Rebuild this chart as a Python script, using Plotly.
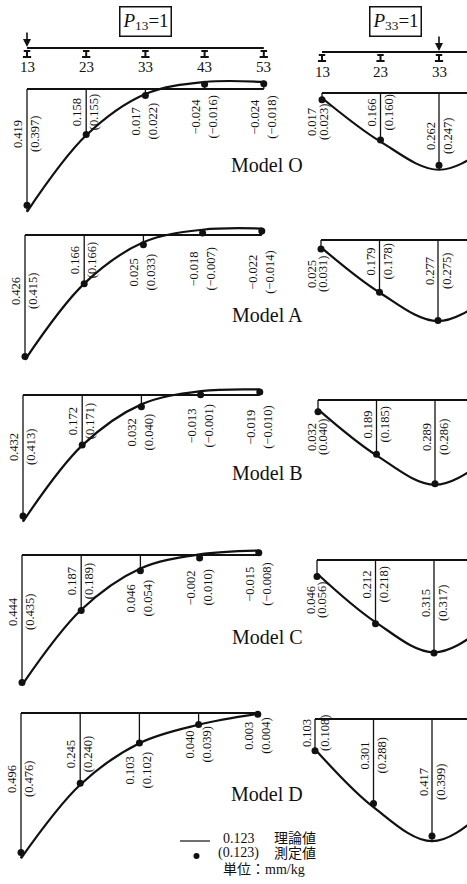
import plotly.graph_objects as go

W, H = 467, 884

# ---------------- data ----------------
STATIONS = [13, 23, 33, 43, 53]
STATION_LABELS = ["13", "23", "33", "43", "53"]
MODELS = ["O", "A", "B", "C", "D"]

# Load P13 = 1 : deflection (mm/kg) at stations 13..53
p13_theory_O = [0.419, 0.158, 0.017, -0.024, -0.024]
p13_measured_O = [0.397, 0.155, 0.022, -0.016, -0.018]
p13_theory_A = [0.426, 0.166, 0.025, -0.018, -0.022]
p13_measured_A = [0.415, 0.166, 0.033, -0.007, -0.014]
p13_theory_B = [0.432, 0.172, 0.032, -0.013, -0.019]
p13_measured_B = [0.413, 0.171, 0.040, -0.001, -0.010]
p13_theory_C = [0.444, 0.187, 0.046, -0.002, -0.015]
p13_measured_C = [0.435, 0.189, 0.054, 0.010, -0.008]
p13_theory_D = [0.496, 0.245, 0.103, 0.040, 0.003]
p13_measured_D = [0.476, 0.240, 0.102, 0.039, 0.004]

# Load P33 = 1 : deflection (mm/kg) at stations 13, 23, 33 (visible part)
P33_STATIONS = [13, 23, 33]
p33_theory_O = [0.017, 0.166, 0.262]
p33_measured_O = [0.023, 0.160, 0.247]
p33_theory_A = [0.025, 0.179, 0.277]
p33_measured_A = [0.031, 0.178, 0.275]
p33_theory_B = [0.032, 0.189, 0.289]
p33_measured_B = [0.040, 0.185, 0.286]
p33_theory_C = [0.046, 0.212, 0.315]
p33_measured_C = [0.056, 0.218, 0.317]
p33_theory_D = [0.103, 0.301, 0.417]
p33_measured_D = [0.108, 0.288, 0.399]
# stations 43, 53 lie beyond the cropped edge (estimated, symmetric span)
P33_HIDDEN_STATIONS = [43, 53]
p33_hidden_O = [0.166, 0.017]
p33_hidden_A = [0.179, 0.025]
p33_hidden_B = [0.189, 0.032]
p33_hidden_C = [0.212, 0.046]
p33_hidden_D = [0.301, 0.103]

P13_THEORY = [p13_theory_O, p13_theory_A, p13_theory_B, p13_theory_C, p13_theory_D]
P13_MEAS = [p13_measured_O, p13_measured_A, p13_measured_B, p13_measured_C, p13_measured_D]
P33_THEORY = [p33_theory_O, p33_theory_A, p33_theory_B, p33_theory_C, p33_theory_D]
P33_MEAS = [p33_measured_O, p33_measured_A, p33_measured_B, p33_measured_C, p33_measured_D]
P33_HIDDEN = [p33_hidden_O, p33_hidden_A, p33_hidden_B, p33_hidden_C, p33_hidden_D]

# ---------------- layout geometry (pixels) ----------------
SCALE = 293.0                      # px per mm/kg
LEFT_BASE_Y = [89, 235, 395, 555, 713]
RIGHT_BASE_Y = [93, 240, 400, 560, 719]
LEFT_X13 = [27, 25, 23, 22, 21]
RIGHT_X13 = [322, 321, 318, 317, 315]
LEFT_STEP = 59.2                   # px between stations
RIGHT_STEP = 58.5
LEFT_DOM = (0, 292)
RIGHT_DOM = (298, 467)
MODEL_LABEL_Y = [165, 315, 473, 637, 794]

LEFT_LABEL_DY = [
    [45, 23, 32, 28, 28],
    [56, 25, 37, 34, 37],
    [52, 26, 37, 31, 32],
    [57, 26, 43, 33, 29],
    [66, 41, 57, 32, 23],
]
RIGHT_LABEL_DY = [
    [29, 20, 43],
    [34, 22, 31],
    [37, 25, 37],
    [40, 25, 43],
    [14, 37, 63],
]
RIGHT13_THEORY_DX = [-10, -9, -6, -6, -8]
RIGHT13_MEAS_DX = [2, 2, 5, 5, 10]

SERIF = "Liberation Serif, Times New Roman, serif"
CJK = "Liberation Serif, Noto Sans CJK JP, serif"
INK = "#111111"

fig = go.Figure()
layout = dict(width=W, height=H, margin=dict(l=0, r=0, t=0, b=0),
              paper_bgcolor="white", plot_bgcolor="rgba(0,0,0,0)",
              showlegend=False, annotations=[], shapes=[])
ann = layout["annotations"]
axis_count = [0]


def new_axes(x13, step, xdom, ytop, ybot, yr_top, yr_bot):
    axis_count[0] += 1
    k = axis_count[0]
    sfx = "" if k == 1 else str(k)
    u = step / 10.0
    xr = [13 - (x13 - xdom[0]) / u, 13 + (xdom[1] - x13) / u]
    layout["xaxis" + sfx] = dict(domain=[xdom[0] / W, xdom[1] / W], range=xr,
                                 visible=False, fixedrange=True,
                                 anchor="y" + sfx)
    layout["yaxis" + sfx] = dict(domain=[1 - ybot / H, 1 - ytop / H],
                                 range=[yr_bot, yr_top], visible=False,
                                 fixedrange=True, anchor="x" + sfx)
    return "x" + sfx, "y" + sfx


def fmt(v):
    s = f"{abs(v):.3f}"
    return ("\u2212" + s) if v < 0 else s


def value_label(xr, yr, s, text, dy, dx):
    ann.append(dict(x=s, y=0, xref=xr, yref=yr, text=text, showarrow=False,
                    textangle=-90, xshift=dx, yshift=-dy,
                    xanchor="center", yanchor="middle",
                    font=dict(family=SERIF, size=12.5, color=INK)))


def deflection_panel(x13, step, xdom, base_y, st_th, th, st_me, me,
                     curve_st, curve_v, base_end, dys, dxs_th, dxs_me):
    top, bot = base_y - 28, base_y + 160
    xr, yr = new_axes(x13, step, xdom, top, bot,
                      (top - base_y) / SCALE, (bot - base_y) / SCALE)
    # baseline
    fig.add_trace(go.Scatter(x=[13, base_end], y=[0, 0], xaxis=xr, yaxis=yr,
                             mode="lines", line=dict(color=INK, width=2.2),
                             hoverinfo="skip"))
    # vertical ordinates
    vx, vy = [], []
    for s, v in zip(st_th, th):
        vx += [s, s, None]
        vy += [0, v, None]
    fig.add_trace(go.Scatter(x=vx, y=vy, xaxis=xr, yaxis=yr, mode="lines",
                             line=dict(color=INK, width=1.3), hoverinfo="skip"))
    # theoretical influence line
    fig.add_trace(go.Scatter(x=curve_st, y=curve_v, xaxis=xr, yaxis=yr,
                             mode="lines",
                             line=dict(color=INK, width=2.2, shape="spline",
                                       smoothing=1.0),
                             hoverinfo="skip"))
    # measured values
    fig.add_trace(go.Scatter(x=st_me, y=me, xaxis=xr, yaxis=yr, mode="markers",
                             marker=dict(color=INK, size=7), hoverinfo="skip"))
    for i, s in enumerate(st_th):
        value_label(xr, yr, s, fmt(th[i]), dys[i], dxs_th[i])
        value_label(xr, yr, s, "(" + fmt(me[i]) + ")", dys[i], dxs_me[i])


for r, m in enumerate(MODELS):
    # left column: P13 = 1
    deflection_panel(LEFT_X13[r], LEFT_STEP, LEFT_DOM, LEFT_BASE_Y[r],
                     STATIONS, P13_THEORY[r], STATIONS, P13_MEAS[r],
                     STATIONS, P13_THEORY[r], 53, LEFT_LABEL_DY[r],
                     [-9] * 5, [8] * 5)
    # right column: P33 = 1
    deflection_panel(RIGHT_X13[r], RIGHT_STEP, RIGHT_DOM, RIGHT_BASE_Y[r],
                     P33_STATIONS, P33_THEORY[r], P33_STATIONS, P33_MEAS[r],
                     P33_STATIONS + P33_HIDDEN_STATIONS,
                     P33_THEORY[r] + P33_HIDDEN[r], 53, RIGHT_LABEL_DY[r],
                     [RIGHT13_THEORY_DX[r], -9, -8],
                     [RIGHT13_MEAS_DX[r], 8, 9])
    ann.append(dict(x=267 / W, y=1 - MODEL_LABEL_Y[r] / H, xref="paper",
                    yref="paper", text="Model " + m, showarrow=False,
                    xanchor="center", yanchor="middle",
                    font=dict(family=SERIF, size=20, color=INK)))


# ---------------- beam sketches ----------------
def beam(x13, step, xdom, beam_y, stations, labels, load_station, label_y, end):
    xr, yr = new_axes(x13, step, xdom, 25, 84, 25, 84)
    fig.add_trace(go.Scatter(x=[13, end], y=[beam_y, beam_y], xaxis=xr,
                             yaxis=yr, mode="lines",
                             line=dict(color=INK, width=2), hoverinfo="skip"))
    sx, sy = [], []
    for s in stations:
        sx += [s - 0.55, s + 0.55, None, s, s, None, s - 0.7, s + 0.7, None]
        sy += [beam_y + 3, beam_y + 3, None, beam_y + 3, beam_y + 9, None,
               beam_y + 9, beam_y + 9, None]
    fig.add_trace(go.Scatter(x=sx, y=sy, xaxis=xr, yaxis=yr, mode="lines",
                             line=dict(color=INK, width=2), hoverinfo="skip"))
    for s, t in zip(stations, labels):
        ann.append(dict(x=s, y=label_y, xref=xr, yref=yr, text=t,
                        showarrow=False, xanchor="center", yanchor="middle",
                        font=dict(family=SERIF, size=15, color=INK)))
    ann.append(dict(x=load_station, y=beam_y - 1, xref=xr, yref=yr, text="",
                    showarrow=True, ax=0, ay=-16, arrowhead=2, arrowsize=1,
                    arrowwidth=1.6, arrowcolor=INK, standoff=0))


beam(27, LEFT_STEP, LEFT_DOM, 48, STATIONS, STATION_LABELS, 13, 67, 53)
beam(322, RIGHT_STEP, RIGHT_DOM, 52, P33_STATIONS, STATION_LABELS[:3], 33, 72, 53)

# load titles
for xc, sub in [(145.5, "13"), (395.5, "33")]:
    ann.append(dict(x=xc / W, y=1 - 21 / H, xref="paper", yref="paper",
                    text="<i>P</i><sub>" + sub + "</sub>=1", showarrow=False,
                    xanchor="center", yanchor="middle", bordercolor=INK,
                    borderwidth=1.5, borderpad=2,
                    font=dict(family=SERIF, size=19, color=INK)))

# ---------------- key ----------------
layout["shapes"].append(dict(type="line", xref="paper", yref="paper",
                             x0=180 / W, x1=210 / W, y0=1 - 841 / H,
                             y1=1 - 841 / H, line=dict(color=INK, width=1.2)))
layout["shapes"].append(dict(type="circle", xref="paper", yref="paper",
                             x0=193.5 / W, x1=199.5 / W, y0=1 - 859 / H,
                             y1=1 - 853 / H, fillcolor=INK,
                             line=dict(color=INK, width=0)))
for txt, x, y in [("0.123", 221, 838), ("(0.123)", 216, 853),
                  ("理論値", 272, 838), ("測定値", 272, 853),
                  ("単位：mm/kg", 221, 869)]:
    ann.append(dict(x=x / W, y=1 - y / H, xref="paper", yref="paper",
                    text=txt, showarrow=False, xanchor="left",
                    yanchor="middle",
                    font=dict(family=CJK, size=14, color=INK)))

fig.update_layout(**layout)
fig.write_html("out.html",
               config={"displayModeBar": False, "staticPlot": True},
               post_script="document.body.style.margin='0';"
                           "document.body.style.padding='0';")
